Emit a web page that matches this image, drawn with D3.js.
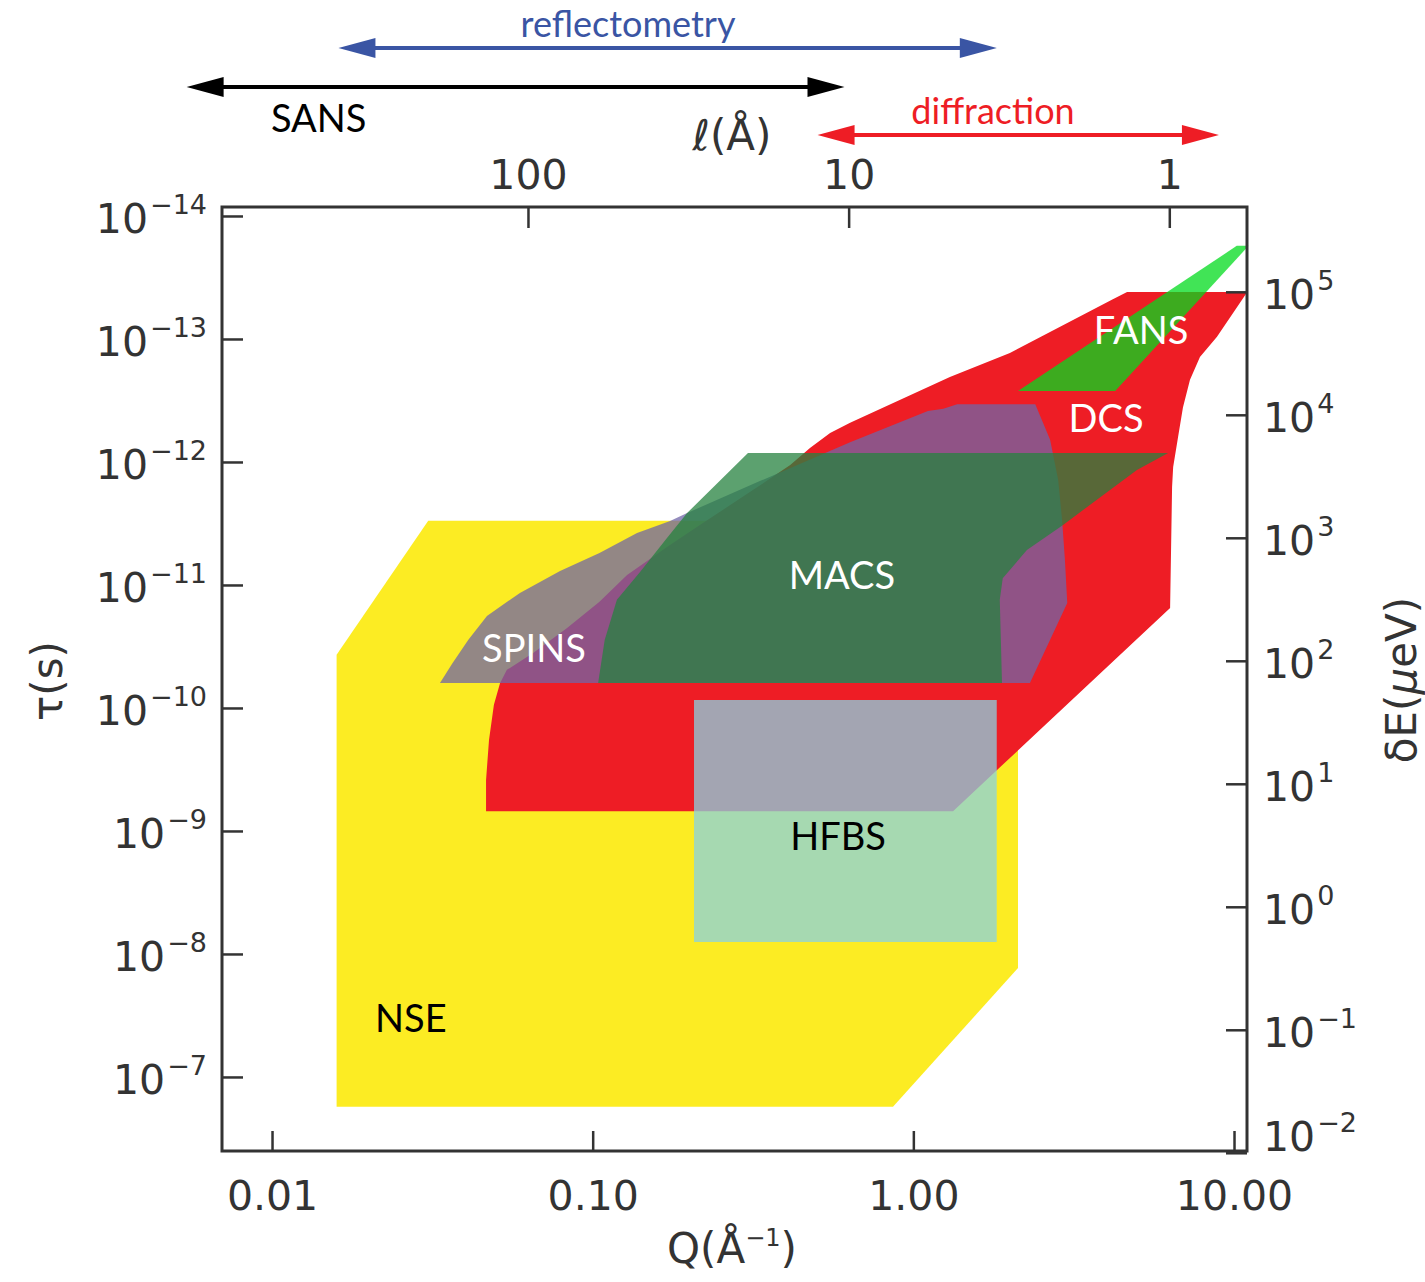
<!DOCTYPE html>
<html>
<head>
<meta charset="utf-8">
<script src="https://cdn.jsdelivr.net/npm/d3@7"></script>
<style>
  body { margin: 0; background: #fff; }
  svg { display: block; }
</style>
</head>
<body>
<div id="chart"></div>
<script>
'use strict';

// instrument coverage, Q in 1/Å and tau in s
var nseQ   = [0.0307, 2.12, 2.12, 0.864, 0.0159, 0.0159];
var nseTau = [3.0e-12, 3.0e-12, 1.30e-8, 1.75e-7, 1.75e-7, 3.7e-11];

var dcsQ   = [0.0465, 1.33, 6.32, 6.41, 6.46, 6.69, 6.93, 7.29, 7.83, 8.85, 11.0, 4.64, 4.16, 2.00, 1.30,
              0.635, 0.550, 0.476, 0.413, 0.310, 0.216, 0.171, 0.128, 0.105, 0.0832, 0.0652, 0.0540, 0.0514, 0.0492, 0.0475, 0.0465];
var dcsTau = [6.9e-10, 6.9e-10, 1.54e-11, 1.60e-12, 1.10e-12, 6.3e-13, 3.6e-13, 2.15e-13, 1.40e-13, 9.6e-14, 4.15e-14, 4.15e-14, 4.8e-14, 1.30e-13, 2.04e-13,
              4.8e-13, 5.8e-13, 7.7e-13, 1.06e-12, 1.75e-12, 3.25e-12, 4.9e-12, 8.3e-12, 1.37e-11, 2.24e-11, 3.57e-11, 4.9e-11, 6.3e-11, 9.4e-11, 1.82e-10, 3.85e-10];

var spinsQ   = [0.0334, 0.0364, 0.0409, 0.0468, 0.0593, 0.0791, 0.105, 0.1375, 0.1743, 0.197, 0.332, 0.635,
                1.11, 1.24, 1.37, 2.40, 2.67, 2.83, 2.91, 2.97, 3.02, 2.31];
var spinsTau = [6.26e-11, 4.39e-11, 2.80e-11, 1.79e-11, 1.16e-11, 7.7e-12, 5.5e-12, 3.78e-12, 3.02e-12, 2.60e-12, 1.43e-12, 6.9e-13,
                3.85e-13, 3.7e-13, 3.4e-13, 3.4e-13, 6.6e-13, 1.40e-12, 2.96e-12, 6.3e-12, 1.40e-11, 6.26e-11];

var macsQ   = [0.305, 6.23, 4.98, 2.93, 2.26, 1.90, 1.86, 1.89, 0.104, 0.109, 0.119, 0.1405, 0.1705, 0.197];
var macsTau = [8.45e-13, 8.45e-13, 1.16e-12, 3.25e-12, 5.2e-12, 8.8e-12, 1.32e-11, 6.26e-11, 6.26e-11, 2.80e-11, 1.32e-11, 7.84e-12, 4.15e-12, 2.60e-12];

var hfbsQ   = [0.207, 1.82, 1.82, 0.207];
var hfbsTau = [8.6e-11, 8.6e-11, 8.0e-9, 8.0e-9];

var fansQ   = [2.12, 4.26, 11.1, 10.2];
var fansTau = [2.65e-13, 2.65e-13, 1.75e-14, 1.75e-14];

// where the instrument names sit
var labelNames = ["FANS", "DCS", "MACS", "SPINS", "HFBS", "NSE"];
var labelQ     = [5.13, 3.99, 0.599, 0.0656, 0.582, 0.0271];
var labelTau   = [8.45e-14, 4.39e-13, 8.4e-12, 3.25e-11, 1.10e-9, 3.31e-8];

// length ranges (Å) of the arrows above the plot
var arrowNames = ["reflectometry", "SANS", "diffraction"];
var arrowFrom  = [390, 1160, 12.5];
var arrowTo    = [3.45, 10.3, 0.70];

// ticks
var qTicks      = [0.01, 0.1, 1, 10];
var lengthTicks = [100, 10, 1];
var tauTicks    = [1e-14, 1e-13, 1e-12, 1e-11, 1e-10, 1e-9, 1e-8, 1e-7];
var energyTicks = [1e5, 1e4, 1e3, 1e2, 1e1, 1e0, 1e-1, 1e-2];

var PLANCK = 4.1357e-9; // μeV·s, dE = h / tau

var fills  = {NSE: "#fcec23", DCS: "#ee1d25", SPINS: "#7065a7", MACS: "#26823f", HFBS: "#8ad3e1", FANS: "#02db1e"};
var alphas = {NSE: 1, DCS: 1, SPINS: 0.75, MACS: 0.75, HFBS: 0.75, FANS: 0.75};
var textColors = {FANS: "#fff", DCS: "#fff", MACS: "#fff", SPINS: "#fff", HFBS: "#000", NSE: "#000"};
var arrowColors = {reflectometry: "#3a55a4", SANS: "#000", diffraction: "#ee1d25"};

var numFont = "'DejaVu Sans', sans-serif";
var nameFont = "Lato, 'Open Sans', sans-serif";
var axisColor = "#333";

var frame = {left: 222, right: 1247, top: 207, bottom: 1151};

var svg = d3.select("#chart")
  .append("svg")
  .attr("width", 1425)
  .attr("height", 1282);

var x = d3.scaleLog()
  .domain([Math.pow(10, -2.156), Math.pow(10, 1.0405)])
  .range([frame.left, frame.right]);

var y = d3.scaleLog()
  .domain([Math.pow(10, -14.073), Math.pow(10, -6.398)])
  .range([frame.top, frame.bottom]);

var yE = d3.scaleLog()
  .domain([PLANCK / y.domain()[0], PLANCK / y.domain()[1]])
  .range([frame.top, frame.bottom]);

//instrument regions, back to front
var layers = [
  {name: "NSE", q: nseQ, t: nseTau},
  {name: "DCS", q: dcsQ, t: dcsTau},
  {name: "SPINS", q: spinsQ, t: spinsTau},
  {name: "MACS", q: macsQ, t: macsTau},
  {name: "HFBS", q: hfbsQ, t: hfbsTau},
  {name: "FANS", q: fansQ, t: fansTau}
];

var outline = d3.line()
  .x(d => x(d[0]))
  .y(d => y(d[1]))
  .curve(d3.curveLinearClosed);

svg.append("g")
  .selectAll("path")
  .data(layers)
  .join("path")
  .attr("d", d => outline(d.q.map((q, i) => [q, d.t[i]])))
  .attr("fill", d => fills[d.name])
  .attr("fill-opacity", d => alphas[d.name]);

svg.append("g")
  .selectAll("text")
  .data(labelNames)
  .join("text")
  .attr("x", (d, i) => x(labelQ[i]))
  .attr("y", (d, i) => y(labelTau[i]))
  .attr("dy", "0.36em")
  .attr("text-anchor", "middle")
  .attr("font-family", nameFont)
  .attr("font-size", 38)
  .attr("fill", d => textColors[d])
  .text(d => d);

// axes: ticks point inwards
function styleAxis(g) {
  g.select(".domain").remove();
  g.selectAll(".tick line").attr("stroke", axisColor).attr("stroke-width", 2.5);
  g.selectAll(".tick text")
    .attr("fill", axisColor)
    .attr("font-family", numFont)
    .attr("font-size", 41);
}

svg.append("g")
  .attr("transform", "translate(0," + frame.bottom + ")")
  .call(d3.axisBottom(x).tickValues(qTicks).tickFormat(d3.format(".2f")).tickSize(-20).tickPadding(30))
  .call(styleAxis);

svg.append("g")
  .attr("transform", "translate(0," + frame.top + ")")
  .call(d3.axisTop(x)
    .tickValues(lengthTicks.map(l => 2 * Math.PI / l))
    .tickFormat((d, i) => lengthTicks[i])
    .tickSize(-21).tickPadding(18))
  .call(styleAxis);

svg.append("g")
  .attr("transform", "translate(" + frame.left + ",0)")
  .call(d3.axisLeft(y).tickValues(tauTicks).tickFormat("").tickSize(-21))
  .call(styleAxis);

svg.append("g")
  .attr("transform", "translate(" + frame.right + ",0)")
  .call(d3.axisRight(yE).tickValues(energyTicks).tickFormat("").tickSize(-21))
  .call(styleAxis);

function powerLabel(text, v) {
  var e = Math.round(Math.log10(v));
  text.append("tspan").text("10");
  text.append("tspan")
    .attr("dy", -19)
    .attr("dx", 2)
    .attr("font-size", 27)
    .text(e < 0 ? "\u2212" + (-e) : String(e));
}

svg.append("g")
  .selectAll("text")
  .data(tauTicks)
  .join("text")
  .attr("x", frame.left - 15)
  .attr("y", d => y(d) + 17)
  .attr("text-anchor", "end")
  .attr("font-family", numFont)
  .attr("font-size", 41)
  .attr("fill", axisColor)
  .each(function(d) { powerLabel(d3.select(this), d); });

svg.append("g")
  .selectAll("text")
  .data(energyTicks)
  .join("text")
  .attr("x", frame.right + 16)
  .attr("y", d => Math.min(yE(d), frame.bottom - 17) + 17)
  .attr("text-anchor", "start")
  .attr("font-family", numFont)
  .attr("font-size", 41)
  .attr("fill", axisColor)
  .each(function(d) { powerLabel(d3.select(this), d); });

svg.append("rect")
  .attr("x", frame.left)
  .attr("y", frame.top)
  .attr("width", frame.right - frame.left)
  .attr("height", frame.bottom - frame.top)
  .attr("fill", "none")
  .attr("stroke", axisColor)
  .attr("stroke-width", 3);

// axis titles
var qTitle = svg.append("text")
  .attr("x", 732).attr("y", 1263)
  .attr("text-anchor", "middle")
  .attr("font-family", numFont).attr("font-size", 42).attr("fill", axisColor);
qTitle.append("tspan").text("Q(Å");
qTitle.append("tspan").attr("dy", -17).attr("font-size", 24).text("\u22121");
qTitle.append("tspan").attr("dy", 17).text(")");

svg.append("text")
  .attr("x", 732).attr("y", 150)
  .attr("text-anchor", "middle")
  .attr("font-family", numFont).attr("font-size", 42).attr("fill", axisColor)
  .text("\u2113(Å)");

svg.append("text")
  .attr("transform", "translate(62,681) rotate(-90)")
  .attr("text-anchor", "middle")
  .attr("font-family", numFont).attr("font-size", 42).attr("fill", axisColor)
  .text("\u03c4(s)");

var eTitle = svg.append("text")
  .attr("transform", "translate(1416,680) rotate(-90)")
  .attr("text-anchor", "middle")
  .attr("font-family", numFont).attr("font-size", 42).attr("fill", axisColor);
eTitle.append("tspan").text("\u03b4E(");
eTitle.append("tspan").attr("font-style", "italic").text("\u03bc");
eTitle.append("tspan").text("eV)");

// range arrows above the plot
var arrowY = {reflectometry: 48, SANS: 87, diffraction: 135};
var headLen = 37, headHalf = 10;

arrowNames.forEach(function(name, i) {
  var x1 = x(2 * Math.PI / arrowFrom[i]);
  var x2 = x(2 * Math.PI / arrowTo[i]);
  var yy = arrowY[name];
  var g = svg.append("g").attr("fill", arrowColors[name]);
  g.append("line")
    .attr("x1", x1 + headLen - 2).attr("x2", x2 - headLen + 2)
    .attr("y1", yy).attr("y2", yy)
    .attr("stroke", arrowColors[name]).attr("stroke-width", 4);
  g.append("path").attr("d", "M" + x1 + "," + yy + "L" + (x1 + headLen) + "," + (yy - headHalf) + "L" + (x1 + headLen) + "," + (yy + headHalf) + "Z");
  g.append("path").attr("d", "M" + x2 + "," + yy + "L" + (x2 - headLen) + "," + (yy - headHalf) + "L" + (x2 - headLen) + "," + (yy + headHalf) + "Z");
});

svg.append("text")
  .attr("x", 628).attr("y", 37)
  .attr("text-anchor", "middle")
  .attr("font-family", nameFont).attr("font-size", 36)
  .attr("fill", arrowColors.reflectometry)
  .text("reflectometry");

svg.append("text")
  .attr("x", 271).attr("y", 132)
  .attr("font-family", nameFont).attr("font-size", 38)
  .attr("fill", arrowColors.SANS)
  .text("SANS");

svg.append("text")
  .attr("x", 993).attr("y", 124)
  .attr("text-anchor", "middle")
  .attr("font-family", nameFont).attr("font-size", 36)
  .attr("fill", arrowColors.diffraction)
  .text("diffraction");
</script>
</body>
</html>
